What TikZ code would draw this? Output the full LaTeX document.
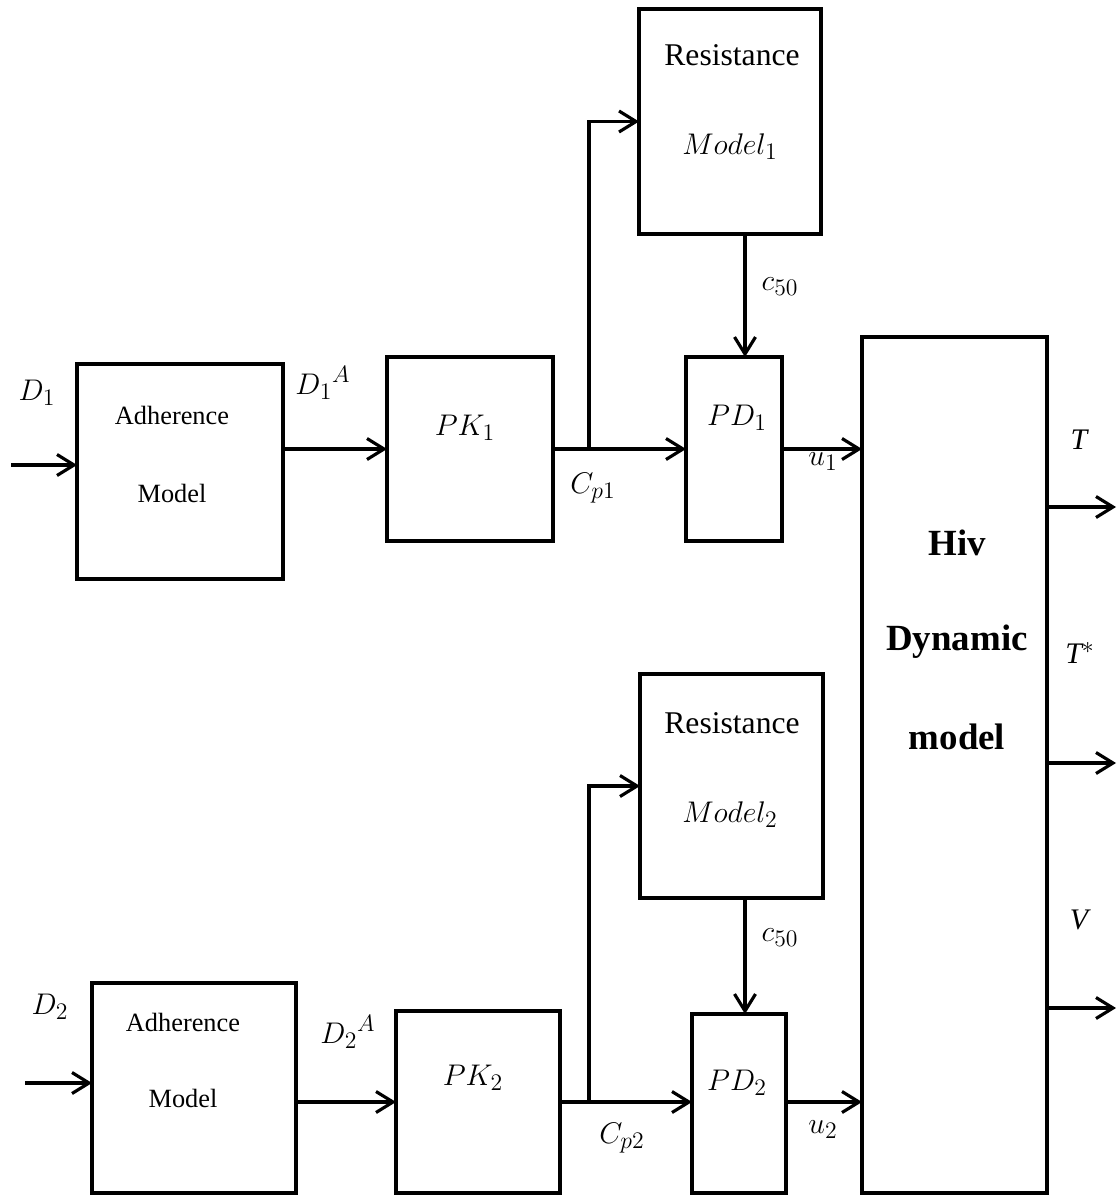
\RequirePackage{fix-cm}
\documentclass[tikz,border=0pt]{standalone}
\usepackage{fontspec}
\setmainfont{Liberation Serif}
\usetikzlibrary{arrows.meta}
\DeclareMathSizes{17}{17}{13.5}{10}

\begin{document}
\begin{tikzpicture}[x=0.02cm, y=-0.02cm,
    blk/.style={draw, line width=2.1pt, inner sep=0pt, outer sep=0pt},
    arr/.style={line width=1.8pt, -{Straight Barb[length=0.34cm, width=0.42cm]}},
    mlbl/.style={font=\fontsize{17}{20}\selectfont, inner sep=0pt},
    txt/.style={font=\fontsize{15}{18}\selectfont, inner sep=0pt},
    rtxt/.style={font=\fontsize{18}{21}\selectfont, inner sep=0pt},
    btxt/.style={font=\fontsize{21}{25}\selectfont\bfseries, inner sep=0pt},
    otxt/.style={font=\fontsize{17}{20}\selectfont\itshape, inner sep=0pt}]
    \useasboundingbox (0,0) rectangle (1118,1196);

    \node[blk, minimum width=4.12cm, minimum height=4.30cm] (adh1) at (180,471.5) {};
    \node[blk, minimum width=3.32cm, minimum height=3.68cm] (pk1) at (470,449) {};
    \node[blk, minimum width=3.64cm, minimum height=4.50cm] (res1) at (730,121.5) {};
    \node[blk, minimum width=1.92cm, minimum height=3.68cm] (pd1) at (734,449) {};
    \node[blk, minimum width=3.70cm, minimum height=17.12cm] (hiv) at (954.5,765) {};
    \node[blk, minimum width=4.08cm, minimum height=4.20cm] (adh2) at (194,1088) {};
    \node[blk, minimum width=3.28cm, minimum height=3.64cm] (pk2) at (478,1102) {};
    \node[blk, minimum width=3.66cm, minimum height=4.48cm] (res2) at (731.5,786) {};
    \node[blk, minimum width=1.88cm, minimum height=3.58cm] (pd2) at (739,1103.5) {};

    \node[txt] (adh1a) at (172,415) {Adherence};
    \node[txt] (adh1b) at (172,493) {Model};
    \node[txt] (adh2a) at (183,1022) {Adherence};
    \node[txt] (adh2b) at (183,1098) {Model};
    \node[rtxt] (res1a) at (732,55) {Resistance};
    \node[mlbl] (res1b) at (730,147) {$Model_1$};
    \node[rtxt] (res2a) at (732,723) {Resistance};
    \node[mlbl] (res2b) at (730,815) {$Model_2$};
    \node[mlbl] (pk1l) at (465,428) {$PK_1$};
    \node[mlbl] (pk2l) at (473,1078) {$PK_2$};
    \node[mlbl] (pd1l) at (737,418) {$PD_1$};
    \node[mlbl] (pd2l) at (737,1083) {$PD_2$};
    \node[btxt] (hiva) at (957,543) {Hiv};
    \node[btxt] (hivb) at (957,642) {Dynamic};
    \node[btxt] (hivc) at (957,737) {model};

    \node[mlbl] (d1) at (37,393) {$D_1$};
    \node[mlbl] (d1a) at (323,383) {${D_1}^{A}$};
    \node[mlbl] (cp1) at (593,488) {$C_{p1}$};
    \node[mlbl] (u1) at (823,462) {$u_1$};
    \node[mlbl] (c1) at (780,287) {$c_{50}$};
    \node[mlbl] (d2) at (50,1007) {$D_2$};
    \node[mlbl] (d2a) at (348,1032) {${D_2}^{A}$};
    \node[mlbl] (cp2) at (622,1138) {$C_{p2}$};
    \node[mlbl] (u2) at (823,1130) {$u_2$};
    \node[mlbl] (c2) at (780,938) {$c_{50}$};
    \node[otxt] (tl) at (1079,440) {T};
    \node[otxt] (tsl) at (1080,653) {T$^{*}$};
    \node[otxt] (vl) at (1079,920) {V};

    \coordinate (in1) at (11,465);
    \coordinate (in2) at (25,1083);
    \coordinate (br1) at (589,449);
    \coordinate (br2) at (589,1102);
    \coordinate (k1) at (745,0);
    \coordinate (k2) at (745,0);
    \coordinate (o1) at (1116,507);
    \coordinate (o2) at (1116,763);
    \coordinate (o3) at (1116,1008);

    \draw[arr] (in1) -- (in1 -| adh1.west);
    \draw[arr] (adh1.east |- pk1.west) -- (pk1.west);
    \draw[arr] (pk1.east) -- (pd1.west);
    \draw[arr] (br1) |- (res1.west);
    \draw[arr] (res1.south -| k1) -- (pd1.north -| k1);
    \draw[arr] (pd1.east) -- (pd1.east -| hiv.west);

    \draw[arr] (in2) -- (in2 -| adh2.west);
    \draw[arr] (adh2.east |- pk2.west) -- (pk2.west);
    \draw[arr] (pk2.east) -- (pk2.east -| pd2.west);
    \draw[arr] (br2) |- (res2.west);
    \draw[arr] (res2.south -| k2) -- (pd2.north -| k2);
    \draw[arr] (pd2.east |- pk2.east) -- (pk2.east -| hiv.west);

    \draw[arr] (hiv.east |- o1) -- (o1);
    \draw[arr] (hiv.east |- o2) -- (o2);
    \draw[arr] (hiv.east |- o3) -- (o3);
\end{tikzpicture}
\end{document}
